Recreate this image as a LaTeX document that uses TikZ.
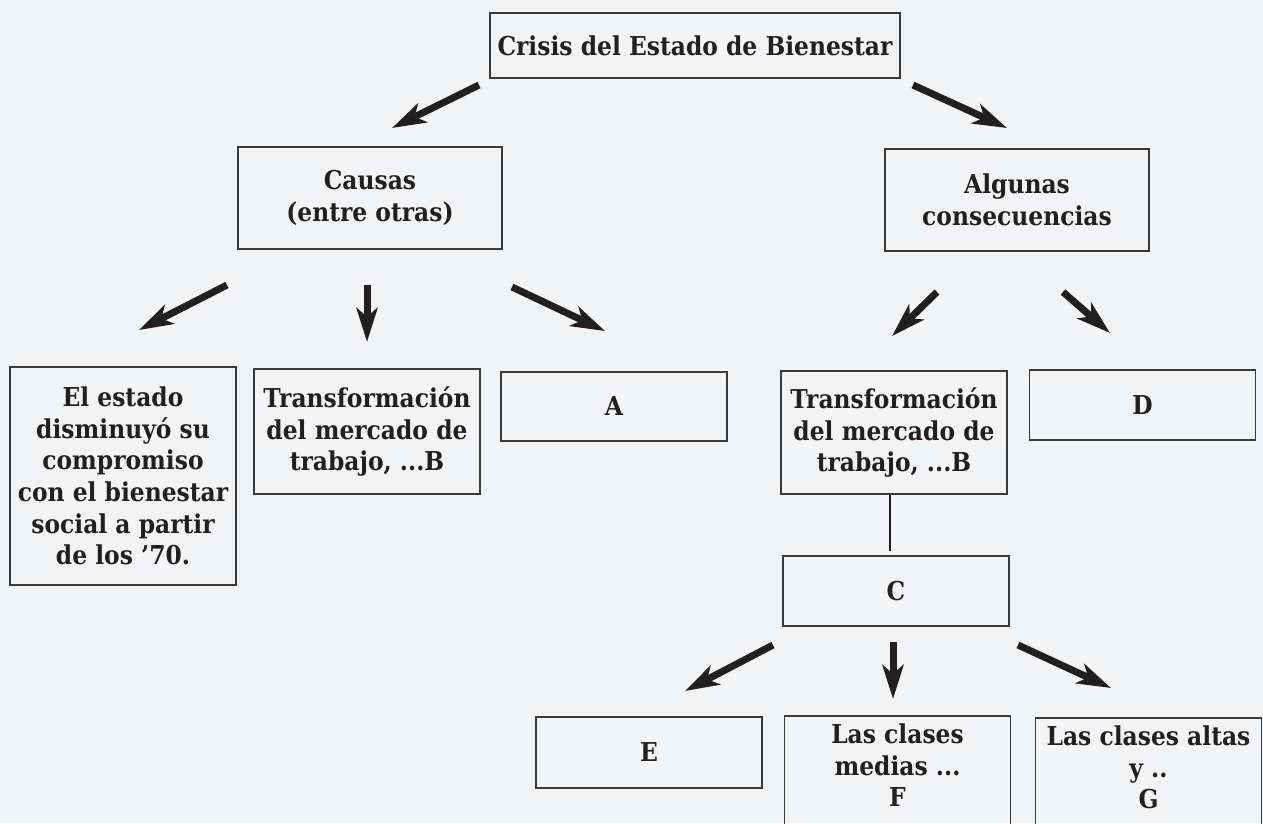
\documentclass[tikz,border=0pt]{standalone}
\usepackage{fontspec}
\setmainfont{DejaVu Serif}[FakeStretch=0.9]
\usetikzlibrary{arrows.meta}
\definecolor{bg}{HTML}{F2F3F5}
\definecolor{ink}{HTML}{231F20}
\definecolor{boxc}{HTML}{3A3A3A}
\begin{document}
\begin{tikzpicture}[x=1pt,y=-1pt,
  box/.style={draw=boxc, line width=1.6pt, align=center, inner sep=0pt, text=ink,
    font=\bfseries\fontsize{26}{31.7}\selectfont},
  smallbox/.style={box, minimum width=226pt},
  arr/.style={draw=ink, line width=7pt, -{Stealth[length=34pt,width=21pt,inset=9pt]}}]
\useasboundingbox[fill=bg] (0,0) rectangle (1263,823);
\clip (0,0) rectangle (1263,823);
% level 0
\node[box, minimum width=410pt, minimum height=65pt] (top) at (695,45.5) {Crisis del Estado de Bienestar};
% level 1
\node[box, minimum width=264pt, minimum height=102pt] (causas) at (370,198) {Causas\\(entre otras)};
\node[box, minimum width=264pt, minimum height=102pt] (cons) at (1017,200) {Algunas\\consecuencias};
% level 2
\node[smallbox, minimum height=218pt] (estado) at (123,476) {El estado\\disminuyó su\\compromiso\\con el bienestar\\social a partir\\de los ’70.};
\node[smallbox, minimum height=125pt] (trans1) at (367,431.5) {Transformación\\del mercado de\\trabajo, ...B};
\node[smallbox, minimum height=69pt] (A) at (614,406.5) {A};
\node[smallbox, minimum height=123pt] (trans2) at (894,432.5) {Transformación\\del mercado de\\trabajo, ...B};
\node[smallbox, minimum height=70pt] (D) at (1142.5,405) {D};
% level 3
\node[smallbox, minimum height=70pt] (C) at (896,591) {C};
% level 4
\node[smallbox, minimum height=71pt] (E) at (649,752.5) {E};
\node[smallbox, anchor=north, inner ysep=8pt, text depth=80pt] (F) at (897.5,715) {Las clases\\medias ...\\F};
\node[smallbox, anchor=north, inner ysep=8pt, text depth=80pt] (G) at (1148.5,717) {Las clases altas\\y ..\\G};
% connector
\draw[draw=ink, line width=1.8pt, shorten >=4pt] ([xshift=-4pt]trans2.south) -- ([xshift=-4pt]trans2.south |- C.north);
% arrow coordinates
\coordinate (a1s) at (479,85);   \coordinate (a1e) at (392,128);
\coordinate (a2s) at (913,85);   \coordinate (a2e) at (1007,128);
\coordinate (a3s) at (227,285);  \coordinate (a3e) at (139,330);
\coordinate (a4s) at (367,285);  \coordinate (a4e) at (367,342);
\coordinate (a5s) at (512,287);  \coordinate (a5e) at (605,331);
\coordinate (a6s) at (937,292);  \coordinate (a6e) at (892,336);
\coordinate (a7s) at (1063,292); \coordinate (a7e) at (1110,333);
\coordinate (a8s) at (773,645);  \coordinate (a8e) at (685,691);
\coordinate (a9s) at (893,642);  \coordinate (a9e) at (893,699);
\coordinate (a10s) at (1018,645); \coordinate (a10e) at (1111,688);
\foreach \i in {1,...,10} {\draw[arr] (a\i s) -- (a\i e);}
\end{tikzpicture}
\end{document}
